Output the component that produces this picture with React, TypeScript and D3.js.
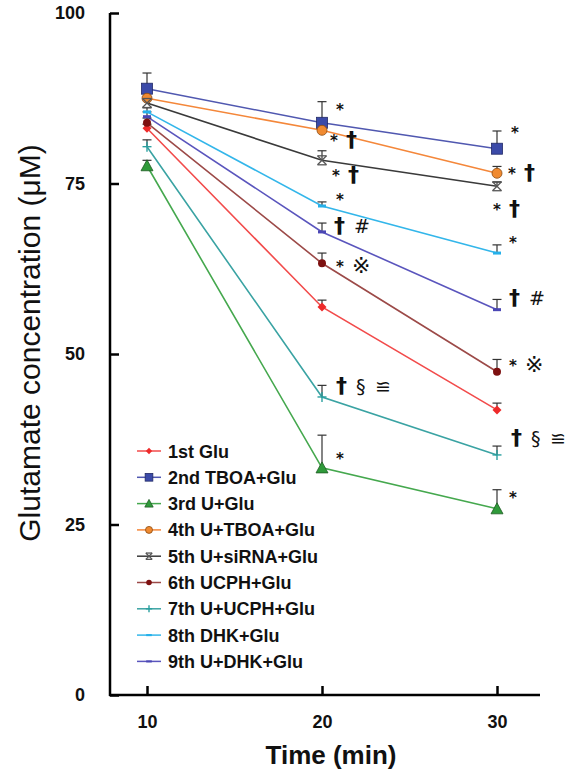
import React, { useEffect, useRef } from "react";
import * as d3 from "d3";

const times = [10, 20, 30];
const seriesNames = [
  "1st Glu",
  "2nd TBOA+Glu",
  "3rd U+Glu",
  "4th U+TBOA+Glu",
  "5th U+siRNA+Glu",
  "6th UCPH+Glu",
  "7th U+UCPH+Glu",
  "8th DHK+Glu",
  "9th U+DHK+Glu",
];
const glu1 = [83.1, 56.9, 41.8];
const tboa2 = [88.9, 83.9, 80.1];
const u3 = [77.6, 33.3, 27.3];
const utboa4 = [87.5, 82.8, 76.5];
const sirna5 = [86.8, 78.4, 74.6];
const ucph6 = [83.9, 63.3, 47.4];
const uucph7 = [80.4, 43.7, 35.2];
const dhk8 = [85.5, 71.7, 64.8];
const udhk9 = [84.8, 67.9, 56.5];
const errGlu1 = [0.6, 1.0, 1.0];
const errTboa2 = [2.3, 3.1, 2.6];
const errU3 = [0.8, 4.8, 2.8];
const errUtboa4 = [0.8, 0.8, 1.0];
const errSirna5 = [0.9, 1.4, 0.6];
const errUcph6 = [0.7, 1.5, 1.8];
const errUucph7 = [1.0, 1.7, 1.3];
const errDhk8 = [0.6, 0.6, 1.2];
const errUdhk9 = [0.7, 1.3, 1.5];
const yTicks = [0, 25, 50, 75, 100];
const xTicks = [10, 20, 30];

const values = [glu1, tboa2, u3, utboa4, sirna5, ucph6, uucph7, dhk8, udhk9];
const errors = [errGlu1, errTboa2, errU3, errUtboa4, errSirna5, errUcph6, errUucph7, errDhk8, errUdhk9];
const lineColors = ["#f24b4b", "#5058b0", "#45a84e", "#f4873a", "#3a3a3a", "#9c4a48", "#3aa3a3", "#33b6ea", "#5a55bd"];
const markerColors = ["#ee2a2a", "#3b4aa8", "#2f9a3a", "#f08a30", "#555555", "#7d1010", "#2aa0a0", "#25b0ea", "#4b47b5"];
const markerKinds = ["diamond", "square", "triangle", "circle", "star", "dot", "plus", "dash", "dash"];

// significance symbols: [series, time index, symbols, x offset, y offset in value units]
const sigMarks: [number, number, string[], number, number][] = [
  [1, 1, ["*"], 14, 2.2],
  [3, 1, ["*", "†"], 8, -1.3],
  [4, 1, ["*", "†"], 10, -2.0],
  [7, 1, ["*"], 14, 1.2],
  [8, 1, ["†", "#"], 12, 1.0],
  [5, 1, ["*", "※"], 14, -0.3],
  [6, 1, ["†", "§", "≌"], 14, 1.8],
  [2, 1, ["*"], 14, 1.6],
  [1, 2, ["*"], 14, 2.6],
  [3, 2, ["*", "†"], 11, 0.2],
  [4, 2, ["*", "†"], -4, -3.2],
  [7, 2, ["*"], 12, 1.8],
  [8, 2, ["†", "#"], 12, 1.8],
  [5, 2, ["*", "※"], 12, 1.2],
  [6, 2, ["†", "§", "≌"], 14, 2.7],
  [2, 2, ["*"], 12, 1.9],
];

function Marker({ kind, x, y, color, k = 1 }: { kind: string; x: number; y: number; color: string; k?: number }) {
  const a = 5.5 * k;
  if (kind === "square") return <rect x={x - a} y={y - a} width={2 * a} height={2 * a} fill={color} stroke="#222a66" strokeWidth={0.8} />;
  if (kind === "circle") return <circle cx={x} cy={y} r={5 * k} fill={color} stroke="#8a4a10" strokeWidth={0.8} />;
  if (kind === "triangle")
    return <path d={`M${x},${y - 6 * k}L${x + 6 * k},${y + 5 * k}L${x - 6 * k},${y + 5 * k}Z`} fill={color} stroke="#1d5a22" strokeWidth={0.8} />;
  if (kind === "diamond") return <path d={`M${x},${y - 4.5 * k}L${x + 4.5 * k},${y}L${x},${y + 4.5 * k}L${x - 4.5 * k},${y}Z`} fill={color} />;
  if (kind === "dot") return <circle cx={x} cy={y} r={4 * k} fill={color} />;
  if (kind === "star") {
    const b = 4.5 * k;
    return (
      <g stroke={color} strokeWidth={1.3}>
        <line x1={x - b} y1={y - b} x2={x + b} y2={y + b} />
        <line x1={x - b} y1={y + b} x2={x + b} y2={y - b} />
        <line x1={x - b} y1={y - b} x2={x + b} y2={y - b} />
        <line x1={x - b} y1={y + b} x2={x + b} y2={y + b} />
      </g>
    );
  }
  if (kind === "plus")
    return (
      <g stroke={color} strokeWidth={1.4}>
        <line x1={x - 4.5 * k} y1={y} x2={x + 4.5 * k} y2={y} />
        <line x1={x} y1={y - 5 * k} x2={x} y2={y + 5 * k} />
      </g>
    );
  return <line x1={x - 4 * k} y1={y} x2={x + 4 * k} y2={y} stroke={color} strokeWidth={3 * k} />;
}

const symbolSize: Record<string, number> = { "*": 15, "†": 22, "#": 19, "※": 22, "§": 19, "≌": 19 };
const symbolGap: Record<string, number> = { "*": 16, "†": 20, "#": 19, "※": 22, "§": 19, "≌": 19 };

export default function App() {
  const width = 565;
  const height = 771;
  const x = d3.scaleLinear().domain([10, 30]).range([147, 497]);
  const y = d3.scaleLinear().domain([0, 100]).range([695, 13]);
  const xAxisRef = useRef<SVGGElement>(null);
  const yAxisRef = useRef<SVGGElement>(null);

  useEffect(() => {
    const style = (g: d3.Selection<SVGGElement, unknown, null, undefined>) => {
      g.select(".domain").remove();
      g.selectAll(".tick line").attr("stroke", "#000").attr("stroke-width", 2.5);
      g.selectAll(".tick text")
        .attr("font-family", "Liberation Sans, Arial, sans-serif")
        .attr("font-weight", "bold")
        .attr("font-size", 18)
        .attr("fill", "#111");
    };
    if (xAxisRef.current) {
      const g = d3.select(xAxisRef.current);
      g.call(d3.axisBottom(x).tickValues(xTicks).tickSize(-9).tickPadding(20).tickFormat(d3.format("d")));
      style(g);
    }
    if (yAxisRef.current) {
      const g = d3.select(yAxisRef.current);
      g.call(d3.axisLeft(y).tickValues(yTicks).tickSize(-9).tickPadding(25).tickFormat(d3.format("d")));
      style(g);
    }
  }, []);

  const line = d3
    .line<number>()
    .x((_, i) => x(times[i]))
    .y((d) => y(d));

  return (
    <svg width={width} height={height} style={{ position: "absolute", left: 0, top: 0, background: "#fff" }}>
      {/* axes */}
      <line x1={110} y1={13} x2={110} y2={696} stroke="#000" strokeWidth={2.5} />
      <line x1={109} y1={695} x2={540} y2={695} stroke="#000" strokeWidth={2.5} />
      <g ref={yAxisRef} transform="translate(110,0)" />
      <g ref={xAxisRef} transform="translate(0,695)" />

      {/* series lines */}
      {values.map((v, s) => (
        <path key={"l" + s} d={line(v) || ""} fill="none" stroke={lineColors[s]} strokeWidth={1.6} />
      ))}

      {/* error bars */}
      {values.map((v, s) =>
        v.map((d, i) => {
          const cx = x(times[i]);
          const top = y(d + errors[s][i]);
          return (
            <g key={"e" + s + "-" + i} stroke="#333" strokeWidth={1.2}>
              <line x1={cx} y1={y(d)} x2={cx} y2={top} />
              <line x1={cx - 4.5} y1={top} x2={cx + 4.5} y2={top} />
            </g>
          );
        })
      )}

      {/* markers */}
      {values.map((v, s) =>
        v.map((d, i) => <Marker key={"m" + s + "-" + i} kind={markerKinds[s]} x={x(times[i])} y={y(d)} color={markerColors[s]} />)
      )}

      {/* significance labels */}
      {sigMarks.map(([s, i, syms, dx, dv], n) => {
        let cx = x(times[i]) + dx;
        const cy = y(values[s][i] + dv) + 6;
        return (
          <g key={"sg" + n}>
            {syms.map((sym, j) => {
              const t = (
                <text
                  key={j}
                  x={cx}
                  y={sym === "*" ? cy + 1 : cy + 2}
                  fontFamily="DejaVu Sans, sans-serif"
                  fontWeight={sym === "†" || sym === "*" ? "bold" : "normal"}
                  fontSize={symbolSize[sym]}
                  fill="#111"
                >
                  {sym}
                </text>
              );
              cx += symbolGap[sym];
              return t;
            })}
          </g>
        );
      })}

      {/* legend */}
      {seriesNames.map((name, s) => {
        const ly = 451 + s * 26.3;
        return (
          <g key={"lg" + s}>
            <line x1={137} y1={ly} x2={161} y2={ly} stroke={lineColors[s]} strokeWidth={1.5} />
            <Marker kind={markerKinds[s]} x={149} y={ly} color={markerColors[s]} k={0.7} />
            <text
              x={168}
              y={ly + 6.5}
              fontFamily="Liberation Sans, Arial, sans-serif"
              fontWeight="bold"
              fontSize={18}
              fill="#111"
            >
              {name}
            </text>
          </g>
        );
      })}

      {/* axis titles */}
      <text
        transform="translate(40,343) rotate(-90)"
        textAnchor="middle"
        fontFamily="Liberation Sans, Arial, sans-serif"
        fontSize={30}
        fill="#111"
      >
        Glutamate concentration (μM)
      </text>
      <text
        x={331}
        y={764}
        textAnchor="middle"
        fontFamily="Liberation Sans, Arial, sans-serif"
        fontWeight="bold"
        fontSize={26}
        fill="#111"
      >
        Time (min)
      </text>
    </svg>
  );
}
